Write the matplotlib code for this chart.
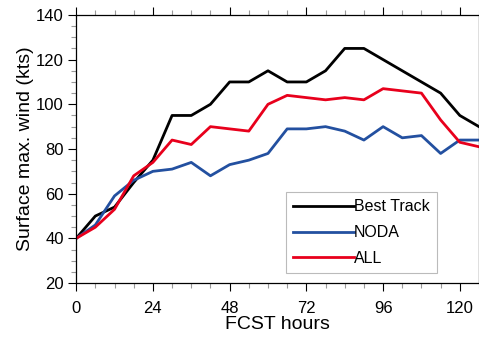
import matplotlib

matplotlib.use("Agg")
import matplotlib.pyplot as plt
from matplotlib.ticker import MultipleLocator

plt.rcParams["font.family"] = ["Liberation Sans", "DejaVu Sans"]

# forecast hours, every 6 h
hours = [0, 6, 12, 18, 24, 30, 36, 42, 48, 54, 60, 66, 72, 78, 84, 90, 96, 102, 108, 114, 120, 126]
best_track = [40, 50, 54, 65, 75, 95, 95, 100, 110, 110, 115, 110, 110, 115, 125, 125, 120, 115, 110, 105, 95, 90]
noda = [40, 46, 59, 66, 70, 71, 74, 68, 73, 75, 78, 89, 89, 90, 88, 84, 90, 85, 86, 78, 84, 84]
all_da = [40, 45, 53, 68, 74, 84, 82, 90, 89, 88, 100, 104, 103, 102, 103, 102, 107, 106, 105, 93, 83, 81]

fig = plt.figure(figsize=(4.79, 3.39), dpi=100)
ax = fig.add_axes([0.159, 0.165, 0.841, 0.791])

ax.plot(hours, best_track, color="black", lw=2.0, label="Best Track")
ax.plot(hours, noda, color="#2350a0", lw=2.0, label="NODA")
ax.plot(hours, all_da, color="#e8001c", lw=2.0, label="ALL")

ax.set_xlim(0, 126)
ax.set_ylim(20, 140)
ax.xaxis.set_major_locator(MultipleLocator(24))
ax.xaxis.set_minor_locator(MultipleLocator(6))
ax.yaxis.set_major_locator(MultipleLocator(20))
ax.yaxis.set_minor_locator(MultipleLocator(5))
ax.tick_params(which="both", direction="out", top=True, right=True, labelsize=12, width=0.8)
ax.tick_params(which="major", length=6)
ax.tick_params(axis="x", which="major", pad=7)
ax.tick_params(axis="y", which="major", pad=3)
ax.tick_params(which="minor", length=3.5, color="#999999")
for s in ax.spines.values():
    s.set_linewidth(0.9)

ax.set_xlabel("FCST hours", fontsize=14, labelpad=0)
ax.set_ylabel("Surface max. wind (kts)", fontsize=14, labelpad=1)

leg = ax.legend(loc="lower left", bbox_to_anchor=(0.521, 0.037), fontsize=11.5,
                handlelength=3.8, handletextpad=0.0, labelspacing=0.68,
                borderpad=0.45, borderaxespad=0,
                fancybox=False, framealpha=1, edgecolor="#bbbbbb")
leg.get_frame().set_linewidth(0.8)

fig.savefig("out.png", dpi=100)
